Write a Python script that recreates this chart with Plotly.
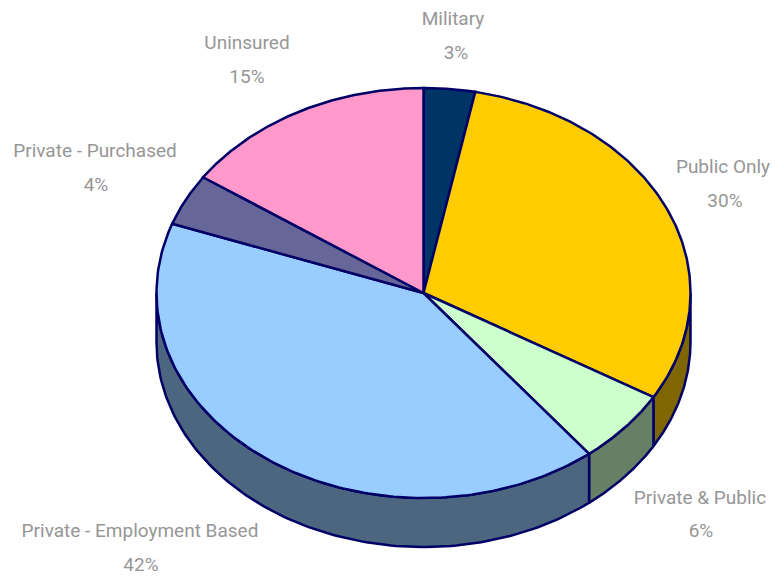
import numpy as np
import plotly.graph_objects as go

# Coverage categories and their shares, in clockwise order from twelve o'clock
categories = ["Military", "Public Only", "Private & Public",
              "Private - Employment Based", "Private - Purchased", "Uninsured"]
shares = [3, 30, 6, 42, 4, 15]

# Styling for each slice
top_colors = ["#003366", "#FFCC00", "#CCFFCC", "#99CCFF", "#666699", "#FF99CC"]
side_colors = ["#001A33", "#806600", "#668066", "#4D6680", "#333350", "#804D66"]
outline = "#000066"
text_gray = "#969696"

# Geometry of the tilted disc, in axis units
cx, cy = 423.5, 293.0
rx, ry = 267.0, 205.0
depth = 49.0
perspective = 0.035

# Label placement: name line and value line
name_x = [453, 723, 700, 140, 95, 247]
name_y = [20, 168, 499, 532, 152, 44]
value_x = [456, 725, 701, 141, 96, 247]
value_y = [54, 202, 532, 566, 186, 78]


def rim(t, drop=0.0):
    return cx + rx * np.sin(t), cy - ry * np.cos(t) + drop


fractions = np.cumsum([0] + shares) / sum(shares)
turns = 2 * np.pi * fractions
# Slice edges lean slightly towards the viewer because of the tilt
angles = turns + perspective * np.sin(turns)

fig = go.Figure()

# Outer wall: only the part of the rim facing the viewer is visible
for i in range(len(shares)):
    lo = max(angles[i], np.pi / 2)
    hi = min(angles[i + 1], 3 * np.pi / 2)
    if hi <= lo:
        continue
    t = np.linspace(lo, hi, 120)
    x_top, y_top = rim(t)
    x_bot, y_bot = rim(t[::-1], depth)
    x = np.r_[x_top, x_bot, x_top[0]]
    y = np.r_[y_top, y_bot, y_top[0]]
    fig.add_trace(go.Scatter(x=x, y=y, mode="lines", fill="toself",
                             fillcolor=side_colors[i],
                             line=dict(color=outline, width=2.5),
                             hoverinfo="skip", showlegend=False))

# Top face of each slice
for i in range(len(shares)):
    t = np.linspace(angles[i], angles[i + 1], 160)
    x_arc, y_arc = rim(t)
    x = np.r_[cx, x_arc, cx]
    y = np.r_[cy, y_arc, cy]
    fig.add_trace(go.Scatter(x=x, y=y, mode="lines", fill="toself",
                             fillcolor=top_colors[i],
                             line=dict(color=outline, width=2.5),
                             hoverinfo="skip", showlegend=False))

label_font = dict(family="Roboto, Liberation Sans, Arial",
                  size=19, color=text_gray)

# Category names and percentages, as separate rows for wide line spacing
fig.add_trace(go.Scatter(x=name_x, y=name_y, mode="text", text=categories,
                         textposition="middle center", textfont=label_font,
                         hoverinfo="skip", showlegend=False, cliponaxis=False))
fig.add_trace(go.Scatter(x=value_x, y=value_y, mode="text",
                         text=[f"{v}%" for v in shares],
                         textposition="middle center", textfont=label_font,
                         hoverinfo="skip", showlegend=False, cliponaxis=False))

fig.update_layout(
    width=775, height=576,
    margin=dict(l=0, r=0, t=0, b=0),
    paper_bgcolor="white", plot_bgcolor="white",
    xaxis=dict(range=[0, 775], visible=False, fixedrange=True),
    yaxis=dict(range=[576, 0], visible=False, fixedrange=True),
)

fig.write_html("out.html", config={"displayModeBar": False})
